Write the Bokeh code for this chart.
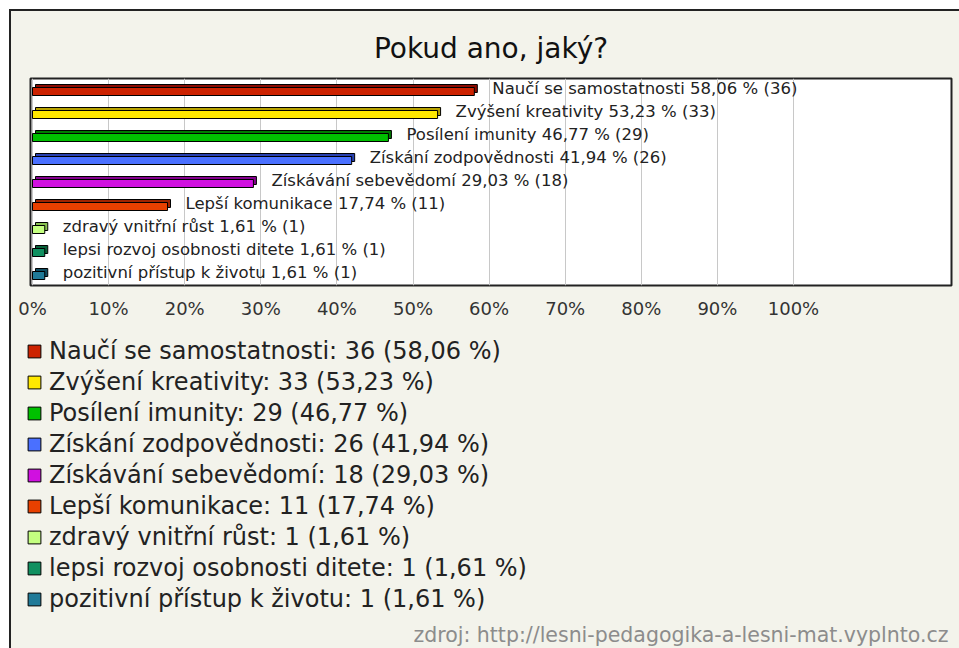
import numpy as np
from bokeh.plotting import figure
from bokeh.layouts import column
from bokeh.models import ColumnDataSource, Range1d, FixedTicker, Label, Legend, LegendItem
from bokeh.core.properties import value
from bokeh.embed import file_html
from bokeh.resources import INLINE

# ---------------- data ----------------
title_text = "Pokud ano, jaký?"
source_text = "zdroj: http://lesni-pedagogika-a-lesni-mat.vyplnto.cz"
categories = [
    "Naučí se samostatnosti",
    "Zvýšení kreativity",
    "Posílení imunity",
    "Získání zodpovědnosti",
    "Získávání sebevědomí",
    "Lepší komunikace",
    "zdravý vnitřní růst",
    "lepsi rozvoj osobnosti ditete",
    "pozitivní přístup k životu",
]
counts = [36, 33, 29, 26, 18, 11, 1, 1, 1]
percents = [58.06, 53.23, 46.77, 41.94, 29.03, 17.74, 1.61, 1.61, 1.61]
front_colors = ["#cc2200", "#ffe800", "#00c000", "#4a70ff", "#d010e0",
                "#e84000", "#c4ff80", "#109060", "#207a98"]
top_colors = ["#8a0a00", "#b8a200", "#007a00", "#2840b0", "#86008f",
              "#a02400", "#88c050", "#086038", "#0f4c60"]
tick_values = [0, 10, 20, 30, 40, 50, 60, 70, 80, 90, 100]
tick_labels = ["0%", "10%", "20%", "30%", "40%", "50%", "60%", "70%", "80%", "90%", "100%"]

# ---------------- styling ----------------
FONT = "DejaVu Sans"
BG = "#f3f3eb"
W = 948
H1, H2 = 314, 323
ML, MR, MT, MB = 19, 8, 67, 40
PX_PER_UNIT = 7.61          # pixels per percent
ROW_PX = 23.0
DX = 3 / PX_PER_UNIT        # 3D depth in x (data units)
DY = 1.5 / ROW_PX           # half of 3D depth in y (data units)
BAR_H = 8 / ROW_PX

def fmt(v):
    return f"{v:.2f}".replace(".", ",")

n = len(categories)
idx = np.arange(n)
src = ColumnDataSource(dict(
    pct=percents,
    y_front=idx + DY,
    y_back=idx - DY,
    y_label=idx - DY,
    left_back=[DX] * n,
    right_back=[p + DX for p in percents],
    front=front_colors,
    top=top_colors,
    bar_label=[f"{c} {fmt(p)} % ({k})" for c, p, k in zip(categories, percents, counts)],
))

x_start = -2 / PX_PER_UNIT
x_end = x_start + (W - ML - MR) / PX_PER_UNIT

# ---------------- top figure: bars ----------------
p = figure(width=W, height=H1, output_backend="svg", toolbar_location=None,
           x_range=Range1d(x_start, x_end), y_range=Range1d(n - 0.5, -0.5),
           y_axis_location=None, min_border_left=ML, min_border_right=MR,
           min_border_top=MT, min_border_bottom=MB)
p.frame_align = False
p.background_fill_color = "white"
p.border_fill_color = BG
p.outline_line_color = "#222"
p.outline_line_width = 2

p.title.text = title_text
p.title.align = "center"
p.title.text_font = FONT
p.title.text_font_size = "28px"
p.title.text_font_style = "normal"
p.title.text_color = "#111111"
p.title.standoff = 28

p.ygrid.visible = False
p.xgrid.grid_line_color = "#c8c8c8"
p.xgrid.grid_line_width = 1

ax = p.xaxis[0]
ax.ticker = FixedTicker(ticks=tick_values)
ax.major_label_overrides = {t: l for t, l in zip(tick_values, tick_labels)}
ax.axis_line_color = None
ax.major_tick_line_color = None
ax.minor_tick_line_color = None
ax.major_tick_out = 0
ax.major_tick_in = 0
ax.major_label_standoff = 12
ax.major_label_text_font = FONT
ax.major_label_text_font_size = "18px"
ax.major_label_text_color = "#333333"

# 3D bars: back (top/right faces) then front face
p.hbar(y="y_back", left="left_back", right="right_back", height=BAR_H, source=src,
       fill_color="top", line_color="black", line_width=1)
p.hbar(y="y_front", left=0, right="pct", height=BAR_H, source=src,
       fill_color="front", line_color="black", line_width=1)

p.text(x="pct", y="y_label", text="bar_label", source=src, x_offset=18,
       text_baseline="middle", text_align="left", text_font=value(FONT),
       text_font_size="16.5px", text_color="#222222")

# ---------------- bottom figure: legend + source ----------------
q = figure(width=W, height=H2, output_backend="svg", toolbar_location=None,
           x_range=Range1d(0, 1), y_range=Range1d(n - 0.5, -0.5),
           x_axis_location=None, y_axis_location=None,
           min_border_left=0, min_border_right=0, min_border_top=0, min_border_bottom=0)
q.frame_align = False
q.background_fill_color = BG
q.border_fill_color = BG
q.outline_line_color = None
q.grid.visible = False

# renderer that carries the legend swatches (its bars lie outside the visible ranges)
leg_r = q.hbar(y=idx + 50, left=5, right=[5 + v for v in percents], height=0.5,
               fill_color=front_colors, line_color="black", line_width=1)

items = [LegendItem(label=f"{c}: {k} ({fmt(v)} %)", renderers=[leg_r], index=i)
         for i, (c, k, v) in enumerate(zip(categories, counts, percents))]
legend = Legend(items=items, location=(15, 34), orientation="vertical",
                glyph_width=16, glyph_height=16, label_standoff=7, label_height=31,
                spacing=0, padding=0, margin=0, border_line_color=None,
                background_fill_alpha=0, label_text_font=FONT,
                label_text_font_size="24px", label_text_color="#222222")
q.add_layout(legend)

q.add_layout(Label(x=937, y=14, x_units="screen", y_units="screen",
                   text=source_text, text_align="right", text_baseline="middle",
                   text_font=FONT, text_font_size="20.5px", text_color="#8c8c8c"))

layout = column(p, q, spacing=0)
layout.margin = (9, 0, 0, 9)
layout.styles = {"border-left": "2px solid #222", "border-top": "2px solid #222",
                 "background-color": BG}

open("out.html", "w").write(file_html(layout, INLINE))
